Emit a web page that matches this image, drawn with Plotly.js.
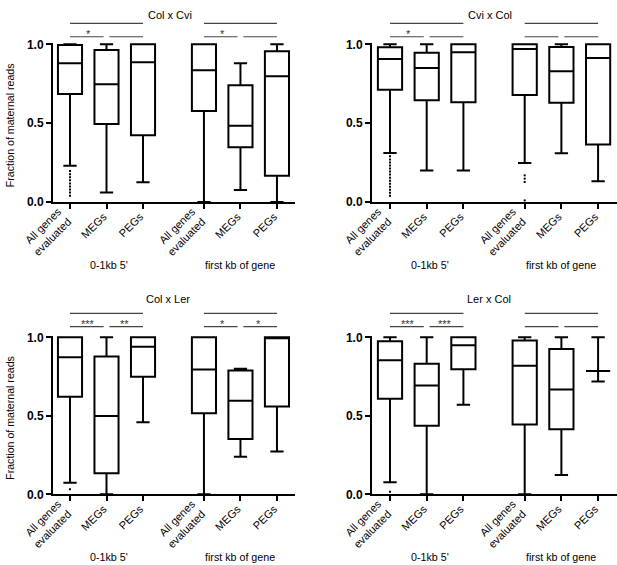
<!DOCTYPE html>
<html><head><meta charset="utf-8">
<script src="https://cdn.plot.ly/plotly-3.0.1.min.js"></script>
<style>html,body{margin:0;padding:0;background:#fff;}#chart{width:617px;height:565px;}</style>
</head><body><div id="chart"></div>
<script>
// ---- data ----
const xPositions = [1, 2, 3, 4.67, 5.67, 6.67];
const allGenesLabels = ['All genes<br>evaluated', 'All genes<br>evaluated'];
const allGenesPositions = [1, 4.67];
const setLabels = ['MEGs', 'PEGs', 'MEGs', 'PEGs'];
const setPositions = [2, 3, 5.67, 6.67];
const panelTitles = ['Col x Cvi', 'Cvi x Col', 'Col x Ler', 'Ler x Col'];
const groupLabels = ["0-1kb 5'", 'first kb of gene'];
const yTitle = 'Fraction of maternal reads';
const yTickVals = [0, 0.5, 1.0];
const yTickText = ['0.0', '0.5', '1.0'];

// Col x Cvi
const colCviLower  = [0.23, 0.061, 0.125, 0.0, 0.076, 0.0];
const colCviQ1     = [0.685, 0.495, 0.423, 0.577, 0.347, 0.167];
const colCviMedian = [0.88, 0.746, 0.886, 0.835, 0.484, 0.797];
const colCviQ3     = [0.995, 0.964, 1.0, 1.0, 0.74, 0.956];
const colCviUpper  = [1.0, 1.0, 1.0, 1.0, 0.88, 1.0];
const colCviOutAll5 = [0.196, 0.176, 0.157, 0.138, 0.118, 0.099, 0.08, 0.06, 0.04];
const colCviOutAllGene = [];
const colCviStars = [['*', ''], ['*', '']];

// Cvi x Col
const cviColLower  = [0.31, 0.199, 0.199, 0.247, 0.309, 0.131];
const cviColQ1     = [0.712, 0.645, 0.632, 0.679, 0.63, 0.364];
const cviColMedian = [0.907, 0.85, 0.949, 0.97, 0.829, 0.913];
const cviColQ3     = [0.981, 0.947, 1.0, 1.0, 0.983, 1.0];
const cviColUpper  = [1.0, 1.0, 1.0, 1.0, 1.0, 1.0];
const cviColOutAll5 = [0.29, 0.27, 0.251, 0.232, 0.212, 0.193, 0.174, 0.154, 0.135, 0.116, 0.096, 0.077, 0.058, 0.04];
const cviColOutAllGene = [0.169, 0.148, 0.127, 0.01];
const cviColStars = [['*', ''], ['', '']];

// Col x Ler
const colLerLower  = [0.074, 0.0, 0.459, 0.0, 0.239, 0.273];
const colLerQ1     = [0.622, 0.134, 0.749, 0.516, 0.353, 0.56];
const colLerMedian = [0.873, 0.499, 0.94, 0.795, 0.596, 1.0];
const colLerQ3     = [1.0, 0.877, 1.0, 1.0, 0.789, 1.0];
const colLerUpper  = [1.0, 1.0, 1.0, 1.0, 0.799, 1.0];
const colLerOutAll5 = [0.032];
const colLerOutAllGene = [];
const colLerStars = [['***', '**'], ['*', '*']];

// Ler x Col
const lerColLower  = [0.076, 0.0, 0.571, 0.0, 0.123, 0.719];
const lerColQ1     = [0.609, 0.436, 0.797, 0.444, 0.414, 0.786];
const lerColMedian = [0.854, 0.693, 0.949, 0.818, 0.668, 0.786];
const lerColQ3     = [0.975, 0.831, 1.0, 0.979, 0.926, 0.786];
const lerColUpper  = [1.0, 1.0, 1.0, 1.0, 1.0, 1.0];
const lerColOutAll5 = [0.017];
const lerColOutAllGene = [];
const lerColStars = [['***', '***'], ['', '']];

// ---- layout geometry (pixels) ----
const W = 617, H = 565, YTOP = 1.01;
const FONT = 'Liberation Sans, Arial, Helvetica, sans-serif';
const panels = [
  {data: [colCviLower, colCviQ1, colCviMedian, colCviQ3, colCviUpper], out: [colCviOutAll5, colCviOutAllGene], stars: colCviStars,
   xd: [53, 295], yb: 202, ppu: 157.7, x1px: 70, xu: 36.5, tx: 170, ty: 15, sig: [1.133, 1.048]},
  {data: [cviColLower, cviColQ1, cviColMedian, cviColQ3, cviColUpper], out: [cviColOutAll5, cviColOutAllGene], stars: cviColStars,
   xd: [372, 617], yb: 202, ppu: 157.7, x1px: 390, xu: 36.7, tx: 490, ty: 15, sig: [1.133, 1.048]},
  {data: [colLerLower, colLerQ1, colLerMedian, colLerQ3, colLerUpper], out: [colLerOutAll5, colLerOutAllGene], stars: colLerStars,
   xd: [53, 295], yb: 494.3, ppu: 157, x1px: 70, xu: 36.5, tx: 168, ty: 299, sig: [1.153, 1.068]},
  {data: [lerColLower, lerColQ1, lerColMedian, lerColQ3, lerColUpper], out: [lerColOutAll5, lerColOutAllGene], stars: lerColStars,
   xd: [372, 617], yb: 494.3, ppu: 157, x1px: 390, xu: 36.7, tx: 489, ty: 299, sig: [1.153, 1.068]}
];
// label placement offsets (pixels)
const setLabelDX = -3, setLabelStandoff = -2;
const allLabelDX = -12, allLabelStandoff = -7;

const traces = [], shapes = [], annotations = [];
const layout = {
  width: W, height: H, margin: {l: 0, r: 0, t: 0, b: 0},
  paper_bgcolor: '#fff', plot_bgcolor: '#fff', showlegend: false,
  font: {family: FONT, size: 11, color: '#000'}
};

panels.forEach((p, i) => {
  const n = i === 0 ? '' : String(i + 1);
  const xa = 'x' + n, ya = 'y' + n;
  const oa = String(5 + 2 * i), ob = String(6 + 2 * i);
  const [lo, q1, med, q3, up] = p.data;
  traces.push({
    type: 'box', xaxis: xa, yaxis: ya, x: xPositions,
    lowerfence: lo, q1: q1, median: med, q3: q3, upperfence: up,
    boxpoints: false, width: 0.66, whiskerwidth: 0.55,
    line: {color: '#000', width: 2}, fillcolor: '#fff', hoverinfo: 'skip'
  });
  // invisible carrier traces so the overlay label axes are drawn
  [oa, ob].forEach(o => traces.push({type: 'scatter', mode: 'markers', xaxis: 'x' + o, yaxis: ya,
    x: [xPositions[0]], y: [0], marker: {opacity: 0, size: 1}, hoverinfo: 'skip'}));
  [0, 3].forEach((ci, k) => {
    const ys = p.out[k];
    if (ys.length) traces.push({
      type: 'scatter', mode: 'markers', xaxis: xa, yaxis: ya, cliponaxis: false,
      x: ys.map(() => xPositions[ci]), y: ys,
      marker: {color: '#000', size: 2, symbol: 'square'}, hoverinfo: 'skip'
    });
  });
  const xr = [1 - (p.x1px - p.xd[0]) / p.xu, 1 + (p.xd[1] - p.x1px) / p.xu];
  const ydom = [1 - p.yb / H, 1 - (p.yb - YTOP * p.ppu) / H];
  const common = {
    domain: [p.xd[0] / W, p.xd[1] / W], range: xr, anchor: ya, showgrid: false, zeroline: false,
    ticks: 'outside', ticklen: 5, tickwidth: 2, tickmode: 'array', tickangle: -45,
    tickfont: {family: FONT, size: 11, color: '#000'}, fixedrange: true
  };
  layout['xaxis' + n] = Object.assign({}, common, {
    showline: true, linewidth: 2, linecolor: '#000', tickcolor: '#000',
    tickvals: xPositions, ticktext: xPositions.map(() => '')
  });
  layout['xaxis' + oa] = Object.assign({}, common, {
    overlaying: xa, showline: false, tickcolor: 'rgba(0,0,0,0)',
    tickvals: setPositions.map(v => v + setLabelDX / p.xu), ticktext: setLabels, ticklabelstandoff: setLabelStandoff
  });
  layout['xaxis' + ob] = Object.assign({}, common, {
    overlaying: xa, showline: false, tickcolor: 'rgba(0,0,0,0)',
    tickvals: allGenesPositions.map(v => v + allLabelDX / p.xu), ticktext: allGenesLabels, ticklabelstandoff: allLabelStandoff
  });
  layout['yaxis' + n] = {
    domain: ydom, range: [0, YTOP], anchor: xa,
    showline: true, linewidth: 2, linecolor: '#000', showgrid: false, zeroline: false,
    ticks: 'outside', ticklen: 5, tickwidth: 2, tickcolor: '#000',
    tickmode: 'array', tickvals: yTickVals, ticktext: yTickText,
    tickfont: {family: FONT, size: 12, color: '#000', weight: 'bold'}, fixedrange: true
  };
  const yref = ya + ' domain';
  [0, 1].forEach(g => {
    const c0 = xPositions[3 * g], c1 = xPositions[3 * g + 1], c2 = xPositions[3 * g + 2];
    const ln = {color: '#444', width: 1.2};
    shapes.push({type: 'line', xref: xa, yref: yref, x0: c0, x1: c2, y0: p.sig[0] / YTOP, y1: p.sig[0] / YTOP, line: ln});
    shapes.push({type: 'line', xref: xa, yref: yref, x0: c0, x1: c1 - 0.08, y0: p.sig[1] / YTOP, y1: p.sig[1] / YTOP, line: ln});
    shapes.push({type: 'line', xref: xa, yref: yref, x0: c1 + 0.08, x1: c2, y0: p.sig[1] / YTOP, y1: p.sig[1] / YTOP, line: ln});
    const st = p.stars[g];
    [[st[0], (c0 + c1) / 2], [st[1], (c1 + c2) / 2]].forEach(([t, xx]) => {
      if (t) annotations.push({text: t, xref: xa, yref: yref, x: xx, y: (p.sig[1] + 0.017) / YTOP,
        xanchor: 'center', yanchor: 'middle', showarrow: false, font: {family: FONT, size: 11, color: '#333'}});
    });
    annotations.push({text: groupLabels[g], xref: xa, yref: 'paper', x: g === 0 ? c1 + 0.08 : c1,
      y: 1 - (p.yb + 63) / H, xanchor: 'center', yanchor: 'middle', showarrow: false,
      font: {family: FONT, size: 10.7, color: '#000'}});
  });
  annotations.push({text: panelTitles[i], xref: 'paper', yref: 'paper', x: p.tx / W, y: 1 - p.ty / H,
    xanchor: 'center', yanchor: 'middle', showarrow: false, font: {family: FONT, size: 11, color: '#000'}});
  if (i === 0 || i === 2) {
    annotations.push({text: yTitle, xref: 'paper', yref: 'paper', x: 10 / W, y: 1 - (p.yb - 0.5 * p.ppu + 2) / H,
      xanchor: 'center', yanchor: 'middle', textangle: -90, showarrow: false,
      font: {family: FONT, size: 10.6, color: '#000'}});
  }
});
layout.shapes = shapes;
layout.annotations = annotations;
Plotly.newPlot('chart', traces, layout, {staticPlot: true, displayModeBar: false});
</script>
</body></html>
